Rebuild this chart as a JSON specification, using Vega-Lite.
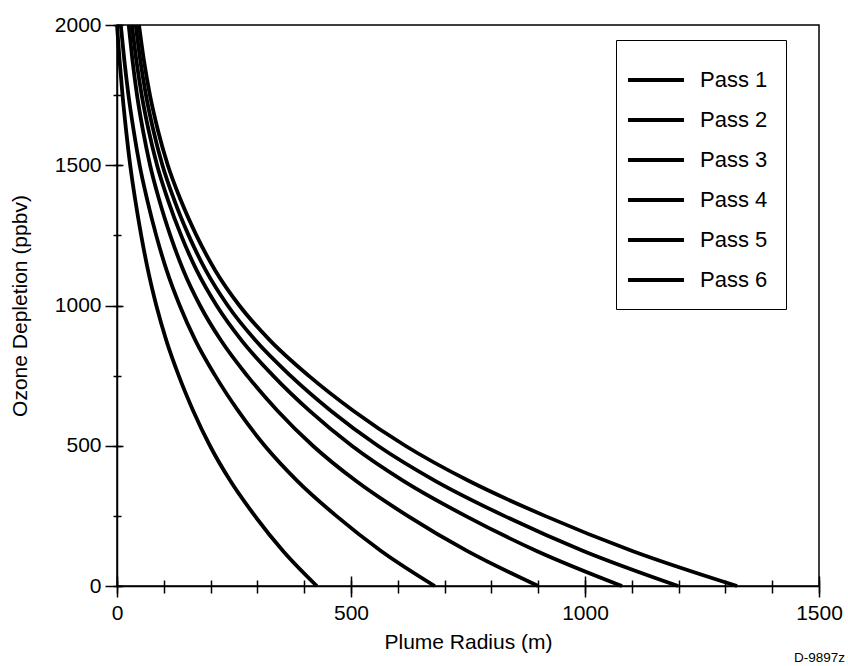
{
  "$schema": "https://vega.github.io/schema/vega-lite/v6.json",
  "width": 702,
  "height": 561,
  "autosize": {"type": "none"},
  "padding": {"left": 117, "top": 25, "right": 29, "bottom": 80},
  "background": "white",
  "config": {
    "font": "Liberation Sans",
    "view": {"stroke": "black", "strokeWidth": 1.5},
    "axis": {
      "grid": false,
      "domainColor": "black",
      "domainWidth": 1.5,
      "tickColor": "black",
      "tickWidth": 1.5,
      "labelColor": "black",
      "titleColor": "black",
      "labelFontSize": 21,
      "titleFontSize": 21,
      "titleFontWeight": "normal",
      "labelFont": "Liberation Sans",
      "titleFont": "Liberation Sans"
    }
  },
  "title": {
    "text": "D-9897z",
    "orient": "bottom",
    "anchor": "end",
    "frame": "group",
    "dx": 26,
    "offset": -1,
    "fontSize": 13.5,
    "fontWeight": "normal",
    "color": "black",
    "font": "Liberation Sans"
  },
  "data": {
    "values": [
      {"pass": "Pass 1", "r": 0, "d": 2000}, {"pass": "Pass 1", "r": 5.5, "d": 1875}, {"pass": "Pass 1", "r": 11.8, "d": 1750}, {"pass": "Pass 1", "r": 19.4, "d": 1625}, {"pass": "Pass 1", "r": 28.2, "d": 1500}, {"pass": "Pass 1", "r": 39.1, "d": 1375}, {"pass": "Pass 1", "r": 51.7, "d": 1250}, {"pass": "Pass 1", "r": 66.3, "d": 1125}, {"pass": "Pass 1", "r": 84, "d": 1000}, {"pass": "Pass 1", "r": 105.5, "d": 875}, {"pass": "Pass 1", "r": 131.9, "d": 750}, {"pass": "Pass 1", "r": 162.7, "d": 625}, {"pass": "Pass 1", "r": 198.6, "d": 500}, {"pass": "Pass 1", "r": 242.1, "d": 375}, {"pass": "Pass 1", "r": 294.6, "d": 250}, {"pass": "Pass 1", "r": 354.8, "d": 125}, {"pass": "Pass 1", "r": 427, "d": 0},
      {"pass": "Pass 2", "r": 8, "d": 2000}, {"pass": "Pass 2", "r": 15.6, "d": 1875}, {"pass": "Pass 2", "r": 24.5, "d": 1750}, {"pass": "Pass 2", "r": 35.5, "d": 1625}, {"pass": "Pass 2", "r": 48.4, "d": 1500}, {"pass": "Pass 2", "r": 64.8, "d": 1375}, {"pass": "Pass 2", "r": 83.8, "d": 1250}, {"pass": "Pass 2", "r": 106.1, "d": 1125}, {"pass": "Pass 2", "r": 134, "d": 1000}, {"pass": "Pass 2", "r": 167.7, "d": 875}, {"pass": "Pass 2", "r": 209.8, "d": 750}, {"pass": "Pass 2", "r": 258.7, "d": 625}, {"pass": "Pass 2", "r": 315.7, "d": 500}, {"pass": "Pass 2", "r": 385, "d": 375}, {"pass": "Pass 2", "r": 468.5, "d": 250}, {"pass": "Pass 2", "r": 564.2, "d": 125}, {"pass": "Pass 2", "r": 679, "d": 0},
      {"pass": "Pass 3", "r": 25, "d": 2000}, {"pass": "Pass 3", "r": 33, "d": 1875}, {"pass": "Pass 3", "r": 42.8, "d": 1750}, {"pass": "Pass 3", "r": 55.4, "d": 1625}, {"pass": "Pass 3", "r": 70.7, "d": 1500}, {"pass": "Pass 3", "r": 90.4, "d": 1375}, {"pass": "Pass 3", "r": 113.9, "d": 1250}, {"pass": "Pass 3", "r": 141.9, "d": 1125}, {"pass": "Pass 3", "r": 177.4, "d": 1000}, {"pass": "Pass 3", "r": 222.3, "d": 875}, {"pass": "Pass 3", "r": 278.1, "d": 750}, {"pass": "Pass 3", "r": 342.9, "d": 625}, {"pass": "Pass 3", "r": 418.5, "d": 500}, {"pass": "Pass 3", "r": 510.3, "d": 375}, {"pass": "Pass 3", "r": 621, "d": 250}, {"pass": "Pass 3", "r": 747.9, "d": 125}, {"pass": "Pass 3", "r": 900, "d": 0},
      {"pass": "Pass 4", "r": 32, "d": 2000}, {"pass": "Pass 4", "r": 41.3, "d": 1875}, {"pass": "Pass 4", "r": 52.8, "d": 1750}, {"pass": "Pass 4", "r": 67.5, "d": 1625}, {"pass": "Pass 4", "r": 85.6, "d": 1500}, {"pass": "Pass 4", "r": 109.1, "d": 1375}, {"pass": "Pass 4", "r": 137, "d": 1250}, {"pass": "Pass 4", "r": 170.3, "d": 1125}, {"pass": "Pass 4", "r": 212.8, "d": 1000}, {"pass": "Pass 4", "r": 266.5, "d": 875}, {"pass": "Pass 4", "r": 333.4, "d": 750}, {"pass": "Pass 4", "r": 411.1, "d": 625}, {"pass": "Pass 4", "r": 501.7, "d": 500}, {"pass": "Pass 4", "r": 611.8, "d": 375}, {"pass": "Pass 4", "r": 744.5, "d": 250}, {"pass": "Pass 4", "r": 896.6, "d": 125}, {"pass": "Pass 4", "r": 1079, "d": 0},
      {"pass": "Pass 5", "r": 40, "d": 2000}, {"pass": "Pass 5", "r": 49.7, "d": 1875}, {"pass": "Pass 5", "r": 61.9, "d": 1750}, {"pass": "Pass 5", "r": 77.6, "d": 1625}, {"pass": "Pass 5", "r": 97.1, "d": 1500}, {"pass": "Pass 5", "r": 122.6, "d": 1375}, {"pass": "Pass 5", "r": 153.1, "d": 1250}, {"pass": "Pass 5", "r": 189.7, "d": 1125}, {"pass": "Pass 5", "r": 236.5, "d": 1000}, {"pass": "Pass 5", "r": 296.2, "d": 875}, {"pass": "Pass 5", "r": 370.5, "d": 750}, {"pass": "Pass 5", "r": 456.8, "d": 625}, {"pass": "Pass 5", "r": 557.5, "d": 500}, {"pass": "Pass 5", "r": 679.8, "d": 375}, {"pass": "Pass 5", "r": 827.3, "d": 250}, {"pass": "Pass 5", "r": 996.4, "d": 125}, {"pass": "Pass 5", "r": 1199, "d": 0},
      {"pass": "Pass 6", "r": 47, "d": 2000}, {"pass": "Pass 6", "r": 57.4, "d": 1875}, {"pass": "Pass 6", "r": 70.4, "d": 1750}, {"pass": "Pass 6", "r": 87.4, "d": 1625}, {"pass": "Pass 6", "r": 108.6, "d": 1500}, {"pass": "Pass 6", "r": 136.4, "d": 1375}, {"pass": "Pass 6", "r": 169.7, "d": 1250}, {"pass": "Pass 6", "r": 209.9, "d": 1125}, {"pass": "Pass 6", "r": 261.4, "d": 1000}, {"pass": "Pass 6", "r": 327.3, "d": 875}, {"pass": "Pass 6", "r": 409.4, "d": 750}, {"pass": "Pass 6", "r": 504.8, "d": 625}, {"pass": "Pass 6", "r": 616.1, "d": 500}, {"pass": "Pass 6", "r": 751.3, "d": 375}, {"pass": "Pass 6", "r": 914.3, "d": 250}, {"pass": "Pass 6", "r": 1101.1, "d": 125}, {"pass": "Pass 6", "r": 1325, "d": 0}
    ]
  },
  "layer": [
    {
      "mark": {"type": "line", "interpolate": "monotone", "strokeWidth": 3.8},
      "encoding": {
        "x": {
          "field": "r", "type": "quantitative",
          "scale": {"domain": [0, 1500], "nice": false},
          "axis": {"orient": "bottom", "values": [0, 500, 1000, 1500], "tickSize": 11, "labelPadding": 5, "title": "Plume Radius (m)", "titlePadding": 8, "format": "d", "labelFlush": false}
        },
        "y": {
          "field": "d", "type": "quantitative",
          "scale": {"domain": [0, 2000], "nice": false},
          "axis": {"orient": "left", "values": [0, 500, 1000, 1500, 2000], "tickSize": 12, "labelPadding": 4, "title": "Ozone Depletion (ppbv)", "titlePadding": 24, "format": "d", "labelFlush": false}
        },
        "color": {
          "field": "pass", "type": "nominal",
          "scale": {"range": ["black", "black", "black", "black", "black", "black"]},
          "legend": {
            "title": null,
            "orient": "none",
            "legendX": 499,
            "legendY": 15,
            "padding": 18,
            "strokeColor": "black",
            "fillColor": "white",
            "symbolType": "M-1.4,0H1.4",
            "symbolSize": 1600,
            "symbolStrokeWidth": 3.8,
            "symbolStrokeColor": "black",
            "labelFontSize": 22,
            "labelColor": "black",
            "labelFont": "Liberation Sans",
            "labelOffset": 22,
            "rowPadding": 7,
            "labelLimit": 200
          }
        }
      }
    },
    {
      "mark": {"type": "point", "opacity": 0},
      "encoding": {
        "x": {"field": "r", "type": "quantitative", "axis": {"orient": "bottom", "values": [0, 100, 200, 300, 400, 500, 600, 700, 800, 900, 1000, 1100, 1200, 1300, 1400, 1500], "tickSize": 7, "labels": false, "domain": false, "title": null}},
        "y": {"field": "d", "type": "quantitative", "axis": {"orient": "left", "values": [0, 250, 500, 750, 1000, 1250, 1500, 1750, 2000], "tickSize": 4, "labels": false, "domain": false, "title": null}}
      }
    },
    {
      "mark": {"type": "point", "opacity": 0},
      "encoding": {
        "x": {"field": "r", "type": "quantitative", "axis": {"orient": "bottom", "values": [0, 100, 200, 300, 400, 500, 600, 700, 800, 900, 1000, 1100, 1200, 1300, 1400, 1500], "tickSize": -6, "labels": false, "domain": false, "title": null}},
        "y": {"field": "d", "type": "quantitative", "axis": {"orient": "left", "values": [0, 250, 500, 750, 1000, 1250, 1500, 1750, 2000], "tickSize": -4, "labels": false, "domain": false, "title": null}}
      }
    },
    {
      "mark": {"type": "point", "opacity": 0},
      "encoding": {
        "x": {"field": "r", "type": "quantitative", "axis": {"orient": "bottom", "values": [0, 500, 1000, 1500], "tickSize": -10, "labels": false, "domain": false, "title": null}},
        "y": {"field": "d", "type": "quantitative", "axis": {"orient": "left", "values": [0, 500, 1000, 1500, 2000], "tickSize": -6, "labels": false, "domain": false, "title": null}}
      }
    }
  ],
  "resolve": {"axis": {"x": "independent", "y": "independent"}}
}
